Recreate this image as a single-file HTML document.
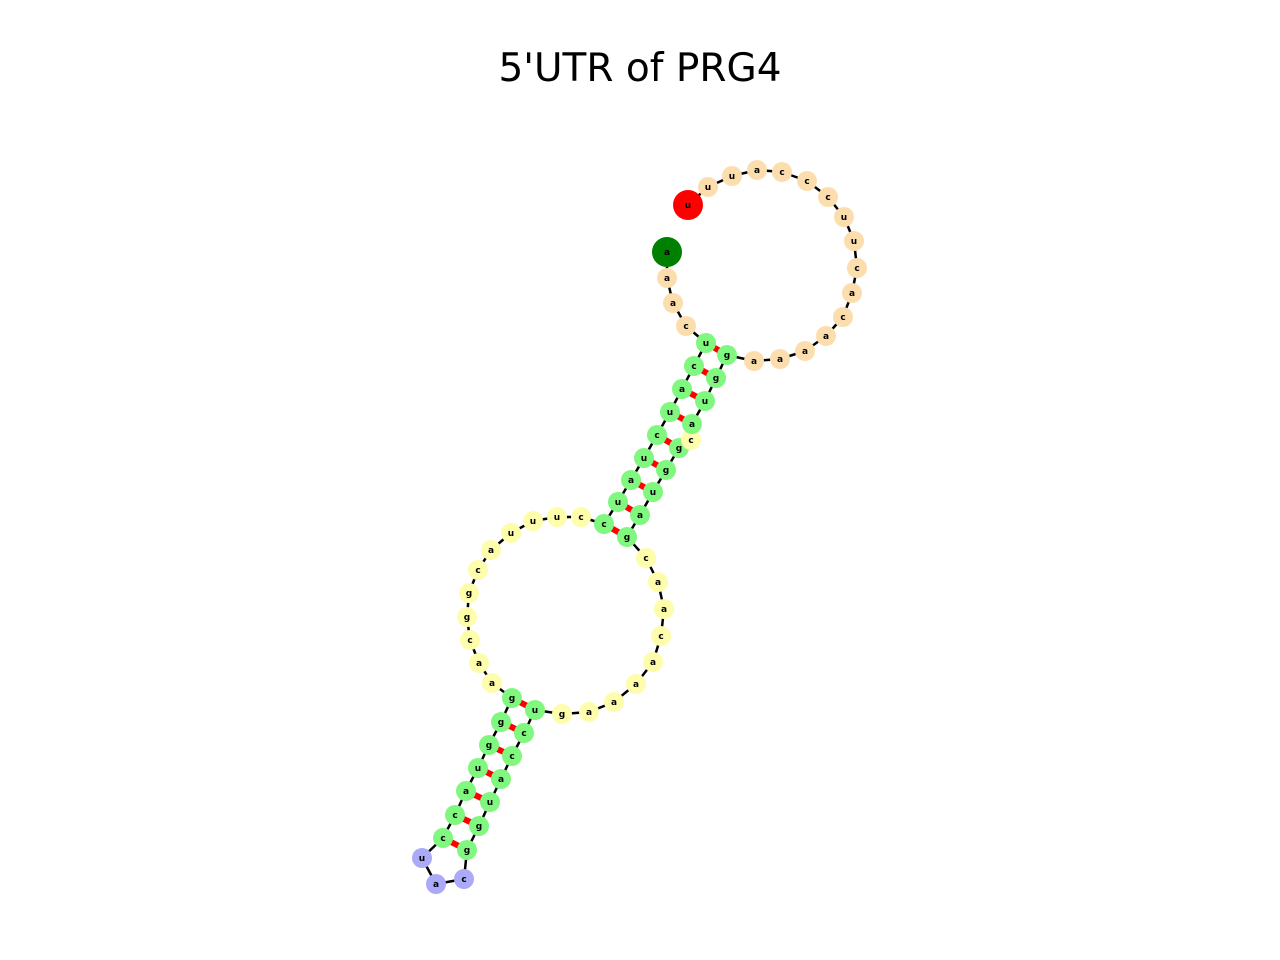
<!DOCTYPE html>
<html><head><meta charset="utf-8">
<style>
html,body{margin:0;padding:0;background:#fff;}
svg{display:block;}
</style></head>
<body>
<svg id="chart" width="1280" height="960" viewBox="0 0 1280 960">
<rect width="1280" height="960" fill="#fff"/>
<text x="640" y="81" text-anchor="middle" font-family="DejaVu Sans, Liberation Sans, sans-serif" font-size="39" fill="#000">5'UTR of PRG4</text>
<g id="bonds"></g><g id="pairs"></g><g id="nodes"></g>
</svg>
<script>
const seq = ["a","a","a","c","u","c","a","u","c","u","a","u","c",
 "c","u","u","u","a","c","g","g","c","a","a",
 "g","g","g","u","a","c","c",
 "u","a","c",
 "g","g","u","a","c","c","u",
 "g","a","a","a","a","c","a","a","c",
 "g","a","u","g","g","c","a","u","g","g",
 "a","a","a","a","c","a","c","u","u","c","c","c","a","u","u","u"];
const xs = [667,667,673,686,706,694,682,670,657,644,631,618,604,
 581,557,533,511,491,478,469,467,470,479,492,
 512,501,489,478,466,455,443,
 422,436,464,
 467,479,490,501,512,524,535,
 562,589,614,636,653,661,664,658,646,
 627,640,653,666,679,691,692,705,716,727,
 754,780,805,826,843,852,857,854,844,828,807,782,757,732,708,688];
const ys = [252,278,303,326,343,366,389,412,435,458,480,502,524,
 517,517,521,533,550,570,593,617,640,663,683,
 698,722,745,768,791,815,838,
 858,884,879,
 850,826,802,779,756,733,710,
 714,712,702,684,662,636,609,582,558,
 537,515,492,470,448,440,424,401,378,355,
 361,359,351,336,317,293,268,241,217,197,181,172,170,176,187,205];
const colorKeys = ["o","o","o","o","g","g","g","g","g","g","g","g","g",
 "y","y","y","y","y","y","y","y","y","y","y",
 "g","g","g","g","g","g","g",
 "b","b","b",
 "g","g","g","g","g","g","g",
 "y","y","y","y","y","y","y","y","y",
 "g","g","g","g","g","y","g","g","g","g",
 "o","o","o","o","o","o","o","o","o","o","o","o","o","o","o","o"];
const pairs = [[4,59],[5,58],[6,57],[7,56],[8,54],[9,53],[10,52],[11,51],[12,50],
 [24,40],[25,39],[26,38],[27,37],[28,36],[29,35],[30,34]];
const palette = {o:"#fcdeae",g:"#80f880",y:"#fdfdab",b:"#aaaaf8"};
const NS = "http://www.w3.org/2000/svg";
const bonds = document.getElementById("bonds");
const pg = document.getElementById("pairs");
const ng = document.getElementById("nodes");
for (let i = 0; i < seq.length - 1; i++) {
  const l = document.createElementNS(NS, "line");
  l.setAttribute("x1", xs[i]); l.setAttribute("y1", ys[i]);
  l.setAttribute("x2", xs[i+1]); l.setAttribute("y2", ys[i+1]);
  l.setAttribute("stroke", "#000"); l.setAttribute("stroke-width", "2.5");
  
  
  bonds.appendChild(l);
}
pairs.forEach(p => {
  const l = document.createElementNS(NS, "line");
  l.setAttribute("x1", xs[p[0]]); l.setAttribute("y1", ys[p[0]]);
  l.setAttribute("x2", xs[p[1]]); l.setAttribute("y2", ys[p[1]]);
  l.setAttribute("stroke", "#ff0000"); l.setAttribute("stroke-width", "6");
  
  
  pg.appendChild(l);
});
for (let i = 0; i < seq.length; i++) {
  const g = document.createElementNS(NS, "g");
  
  
  const c = document.createElementNS(NS, "circle");
  const big = (i === 0 || i === seq.length - 1);
  c.setAttribute("cx", xs[i]); c.setAttribute("cy", ys[i]);
  c.setAttribute("r", big ? 15 : 10);
  let fill = palette[colorKeys[i]];
  if (i === 0) fill = "#008000";
  if (i === seq.length - 1) fill = "#ff0000";
  c.setAttribute("fill", fill);
  const t = document.createElementNS(NS, "text");
  t.setAttribute("x", xs[i]); t.setAttribute("y", ys[i] + 3);
  t.setAttribute("text-anchor", "middle");
  t.setAttribute("font-family", "DejaVu Sans, Liberation Sans, sans-serif");
  t.setAttribute("font-size", "9"); t.setAttribute("font-weight", "bold");
  t.textContent = seq[i];
  g.appendChild(c); g.appendChild(t);
  ng.appendChild(g);
}
</script>
</body></html>
